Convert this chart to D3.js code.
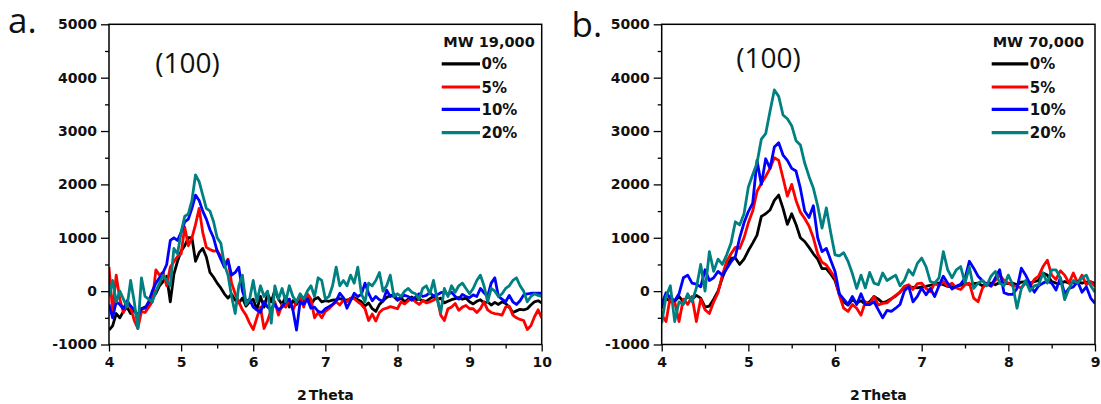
<!DOCTYPE html>
<html>
<head>
<meta charset="utf-8">
<script src="https://cdn.jsdelivr.net/npm/d3@7"></script>
<style>
  html, body { margin: 0; padding: 0; background: #fff; }
  svg { display: block; }
  .tick text { font-family: "DejaVu Sans", sans-serif; font-weight: bold; font-size: 14px; fill: #111; }
  .tick line { stroke: #000; stroke-width: 1.3px; }
</style>
</head>
<body>
<svg id="chart" width="1101" height="404"></svg>
<script>
// 2Theta sampling interval of the scans
const STEP = 0.05;

const concentrations = ["0%", "5%", "10%", "20%"];
const seriesColors = ["#000000", "#ff0000", "#0000ff", "#008080"];

const yTicks = [-1000, 0, 1000, 2000, 3000, 4000, 5000];
const yMinorTicks = [-500, 500, 1500, 2500, 3500, 4500];
const xTicksA = [4, 5, 6, 7, 8, 9, 10];
const xMinorTicksA = [4.5, 5.5, 6.5, 7.5, 8.5, 9.5];
const xTicksB = [4, 5, 6, 7, 8, 9];
const xMinorTicksB = [4.5, 5.5, 6.5, 7.5, 8.5];

// MW 19,000 — intensity from 2Theta = 4 to 10
const mw19_0 = [
  -730,-650,-420,-500,-380,-300,-420,-350,-450,-330,
  -300,-280,-150,-40,100,180,280,-200,320,560,
  750,850,1000,1000,560,720,800,640,350,260,
  150,60,-50,-130,-60,-170,-220,-130,-280,-200,
  -150,-350,-100,-300,-50,-200,20,-150,-250,-100,
  -300,-180,-250,-120,-200,-100,-250,-150,-120,-200,
  -180,-190,-170,-160,-140,-160,-170,-140,-120,-160,
  -200,-280,-220,-330,-380,-250,-180,-120,-80,-100,
  -170,-130,-200,-150,-110,-160,-150,-180,-190,-140,
  -100,-160,-130,-220,-190,-160,-140,-120,-150,-130,
  -200,-240,-190,-160,-220,-200,-260,-210,-250,-200,
  -230,-300,-400,-370,-340,-350,-330,-260,-200,-180,
  -220
];
const mw19_5 = [
  450,-380,300,-150,-400,-200,-300,-550,-700,-380,
  -400,-300,-200,400,300,350,100,450,550,650,
  700,1200,850,1000,1250,1550,1100,820,780,750,
  760,650,500,600,150,-50,-200,-350,-450,-600,
  -720,-500,-300,-700,-550,-350,-200,-450,-250,-300,
  -150,-350,-200,-100,-300,-50,-150,-500,-400,-500,
  -380,-330,-260,-200,-260,-170,-200,-130,-140,-200,
  -250,-330,-550,-430,-560,-400,-340,-320,-290,-310,
  -330,-200,-240,-180,-140,-200,-250,-180,-220,-200,
  -170,-120,-450,-550,-330,-300,-230,-360,-300,-270,
  -330,-330,-400,-330,-200,-350,-400,-420,-430,-450,
  -300,-280,-450,-500,-530,-550,-720,-650,-480,-350,
  -500
];
const mw19_10 = [
  -250,-500,-200,-250,-330,-180,-280,-350,-480,-330,
  -320,-200,0,150,250,350,500,950,1000,950,
  1100,1300,1350,1550,1800,1700,1500,1350,1150,1000,
  750,600,450,580,300,350,450,0,-200,-150,
  -300,-350,-400,-200,-300,-350,-250,-350,-300,-200,
  -150,-350,-730,-200,-250,-150,-320,-300,-380,-400,
  -330,-290,-250,-180,-40,-120,-320,-180,-40,-100,
  -60,150,-40,-180,-100,-160,-190,20,-100,-50,
  -160,-110,-80,-100,-170,-110,-50,-100,-80,-30,
  -90,-70,-30,-20,-60,-20,-100,-150,-60,-100,
  -120,-70,-100,50,-30,-100,150,250,-100,-150,
  -200,-80,-200,-250,-180,-70,-50,-40,-40,-40,
  -40
];
const mw19_20 = [
  -100,200,-200,0,-150,-300,200,-200,-700,250,
  -100,-150,-200,0,150,300,200,100,800,700,
  1100,1400,1450,1700,2180,2050,1800,1550,1500,1300,
  1000,900,500,300,-100,-420,100,300,-250,-150,
  200,-200,100,-100,0,-600,100,-150,50,-200,
  100,-100,-200,-50,-150,0,100,-100,250,200,
  -150,-100,100,450,100,200,100,300,150,450,
  -50,-200,150,100,200,350,0,100,300,-100,
  -50,-100,0,50,-20,-50,-150,50,100,-50,
  200,-150,-400,50,-100,100,-20,100,150,50,
  -50,50,200,300,100,-200,50,0,-100,-50,
  50,100,200,250,100,0,-200,-100,-50,-80,
  -100
];

// MW 70,000 — intensity from 2Theta = 4 to 9
const mw70_0 = [
  -320,-130,-200,-190,-100,-200,-100,-150,-80,-130,
  -300,-280,-150,0,250,450,620,620,500,600,
  760,900,1050,1400,1450,1520,1700,1800,1550,1250,
  1450,1250,1000,930,820,700,600,420,420,320,
  200,-60,-200,-260,-160,-220,-180,-250,-200,-100,
  -150,-220,-190,-140,-90,-20,80,80,70,60,
  80,90,110,130,150,120,90,80,90,110,
  150,120,140,150,100,120,150,120,160,150,
  140,150,120,170,180,150,180,200,340,300,
  180,150,140,180,150,160,180,150,170,170,
  150
];
const mw70_5 = [
  -450,-570,-100,-200,-570,-150,-250,-100,-570,-150,
  -350,-420,-200,-30,300,560,700,820,800,1000,
  1280,1500,1870,2020,2150,2300,2500,2450,2120,1780,
  2000,1700,1480,1360,1220,1000,700,540,490,370,
  250,-80,-320,-380,-250,-320,-450,-200,-250,-100,
  -260,-230,-220,-150,-80,-20,90,120,30,140,
  150,50,-10,150,100,180,90,150,60,30,
  120,150,-130,-200,50,150,90,200,300,200,
  150,100,90,60,150,90,220,280,460,580,
  300,220,380,300,150,340,150,300,120,180,
  90
];
const mw70_10 = [
  -250,-30,-130,-180,-50,250,300,150,130,80,
  400,200,250,370,300,420,550,650,1000,1280,
  1490,1650,2450,2000,2480,2300,2700,2780,2550,2450,
  2300,2250,1930,1500,1380,1600,1000,740,800,580,
  370,-50,-150,-250,-100,-250,-50,-250,-250,-200,
  -350,-500,-360,-380,-320,-250,0,90,-200,-100,
  60,-70,50,-100,100,280,150,40,90,130,
  240,560,430,280,200,130,100,250,400,-30,
  -60,-60,50,430,300,130,-20,100,150,190,
  150,20,250,-50,50,80,180,-20,80,-130,
  -230
];
const mw70_20 = [
  -600,-100,100,-570,-200,-250,-50,-200,60,500,
  0,740,370,600,500,680,900,1300,1240,1450,
  1950,2180,2400,2850,2950,3370,3770,3650,3300,3230,
  3100,2820,2740,2400,2150,1930,1600,1180,1560,1100,
  680,660,720,560,330,50,300,60,350,150,
  120,340,200,250,300,100,200,400,300,520,
  620,460,180,150,250,740,400,250,400,460,
  150,450,50,150,200,100,280,370,150,100,
  300,120,-320,50,200,0,100,120,340,150,
  400,400,250,-160,50,200,150,250,300,100,
  -20
];

const svg = d3.select("#chart");

const panels = [
  {
    id: "a", tag: "a.", tagX: 8, tagY: 32.7,
    left: 109, right: 541.7, top: 24.3, bottom: 344.5,
    xDomain: [4, 10], xTicks: xTicksA, xMinor: xMinorTicksA,
    series: [mw19_0, mw19_5, mw19_10, mw19_20],
    peakX: 187.5, peakY: 72.7,
    legendTitle: "MW 19,000", titleX: 443.3, lineX: 441.7, lineLen: 38.3
  },
  {
    id: "b", tag: "b.", tagX: 571.5, tagY: 36.7,
    left: 661.7, right: 1095, top: 24.3, bottom: 344.5,
    xDomain: [4, 9], xTicks: xTicksB, xMinor: xMinorTicksB,
    series: [mw70_0, mw70_5, mw70_10, mw70_20],
    peakX: 768.6, peakY: 68.3,
    legendTitle: "MW 70,000", titleX: 992.7, lineX: 991.7, lineLen: 36.6
  }
];

panels.forEach(p => {
  const x = d3.scaleLinear().domain(p.xDomain).range([p.left, p.right]);
  const y = d3.scaleLinear().domain([-1000, 5000]).range([p.bottom, p.top]);
  const g = svg.append("g");

  // panel tag
  g.append("text")
    .attr("x", p.tagX).attr("y", p.tagY)
    .style("font-family", "'Open Sans', sans-serif")
    .style("font-size", "35px").style("fill", "#111")
    .text(p.tag);

  // minor ticks
  g.append("g").attr("transform", `translate(${p.left},0)`)
    .call(d3.axisLeft(y).tickValues(yMinorTicks).tickSize(4).tickFormat(""))
    .call(s => s.select(".domain").remove());
  g.append("g").attr("transform", `translate(0,${p.bottom})`)
    .call(d3.axisBottom(x).tickValues(p.xMinor).tickSize(4).tickFormat(""))
    .call(s => s.select(".domain").remove());

  // major ticks with labels
  g.append("g").attr("transform", `translate(${p.left},0)`)
    .call(d3.axisLeft(y).tickValues(yTicks).tickSize(8).tickPadding(4).tickFormat(d => String(d)))
    .call(s => s.select(".domain").remove());
  g.append("g").attr("transform", `translate(0,${p.bottom})`)
    .call(d3.axisBottom(x).tickValues(p.xTicks).tickSize(7).tickPadding(6).tickFormat(d => String(d)))
    .call(s => s.select(".domain").remove());

  // axis title
  const title = g.append("text")
    .attr("x", (p.left + p.right) / 2).attr("y", 400)
    .attr("text-anchor", "middle")
    .style("font-family", "'DejaVu Sans', sans-serif")
    .style("font-weight", "bold").style("font-size", "14px").style("fill", "#111");
  title.append("tspan").text("2");
  title.append("tspan").attr("dx", 2).text("Theta");

  // curves
  const clipId = "clip-" + p.id;
  svg.append("clipPath").attr("id", clipId)
    .append("rect")
    .attr("x", p.left).attr("y", p.top)
    .attr("width", p.right - p.left).attr("height", p.bottom - p.top);

  const line = d3.line()
    .x((d, i) => x(p.xDomain[0] + i * STEP))
    .y(d => y(d));

  const curves = g.append("g").attr("clip-path", `url(#${clipId})`);
  p.series.forEach((vals, k) => {
    curves.append("path")
      .datum(vals)
      .attr("d", line)
      .attr("fill", "none")
      .attr("stroke", seriesColors[k])
      .attr("stroke-width", 2.8)
      .attr("stroke-linejoin", "round");
  });

  // frame
  g.append("rect")
    .attr("x", p.left).attr("y", p.top)
    .attr("width", p.right - p.left).attr("height", p.bottom - p.top)
    .attr("fill", "none").attr("stroke", "#000").attr("stroke-width", 1.5);

  // reflection label
  g.append("text")
    .attr("x", p.peakX).attr("y", p.peakY)
    .attr("text-anchor", "middle")
    .style("font-family", "'Open Sans', sans-serif")
    .style("font-size", "28px").style("fill", "#111")
    .text("(100)");

  // legend
  const lg = g.append("g");
  lg.append("text")
    .attr("x", p.titleX).attr("y", 46.7)
    .style("font-family", "'DejaVu Sans', sans-serif")
    .style("font-weight", "bold").style("font-size", "14.5px").style("fill", "#111")
    .text(p.legendTitle);
  const rowY = [63.8, 87, 109.3, 132.7];
  concentrations.forEach((c, k) => {
    lg.append("line")
      .attr("x1", p.lineX).attr("x2", p.lineX + p.lineLen)
      .attr("y1", rowY[k]).attr("y2", rowY[k])
      .attr("stroke", seriesColors[k]).attr("stroke-width", 3.2);
    lg.append("text")
      .attr("x", p.lineX + p.lineLen + 1.5).attr("y", rowY[k] + 5.6)
      .style("font-family", "'DejaVu Sans', sans-serif")
      .style("font-weight", "bold").style("font-size", "15px").style("fill", "#111")
      .text(c);
  });
});
</script>
</body>
</html>
